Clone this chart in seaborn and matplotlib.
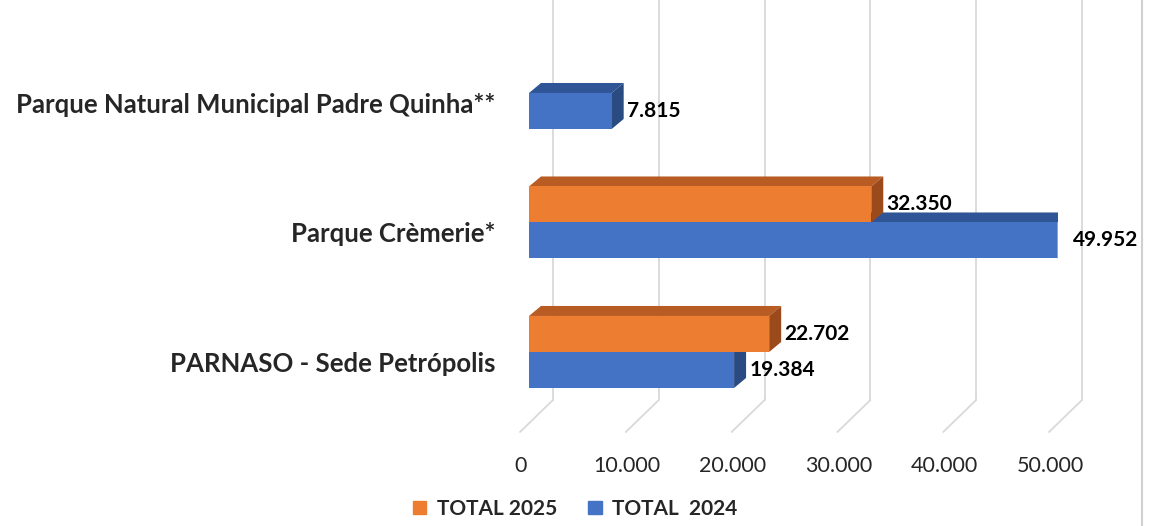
import pandas as pd
import numpy as np
import matplotlib.pyplot as plt
import seaborn as sns
from matplotlib.patches import Polygon
from matplotlib.lines import Line2D
from matplotlib.transforms import IdentityTransform, ScaledTranslation

# dados
parques = ['Parque Natural Municipal Padre Quinha**', 'Parque Crèmerie*', 'PARNASO - Sede Petrópolis']
total_2025 = [np.nan, 32350, 22702]
total_2024 = [7815, 49952, 19384]
series = ['TOTAL 2025', 'TOTAL  2024']
cores = ['#ED7D31', '#4472C4']
cores_topo = ['#B85C24', '#2F5597']
cores_lado = ['#9A4A1B', '#2A4A82']
ticks = [0, 10000, 20000, 30000, 40000, 50000]

df = pd.DataFrame({
    'Parque': parques * 2,
    'Serie': [series[0]] * 3 + [series[1]] * 3,
    'Visitantes': total_2025 + total_2024,
})

sns.set_theme(style='white')
plt.rcParams['font.family'] = ['Lato', 'DejaVu Sans']
plt.rcParams['font.weight'] = 'bold'

W, H = 1150, 526
fig = plt.figure(figsize=(W / 100, H / 100), dpi=100)
ax = fig.add_axes([529 / W, (H - 400) / H, 529 / W, 400 / H])
ax.patch.set_alpha(0)

sns.barplot(data=df, y='Parque', x='Visitantes', hue='Serie', hue_order=series,
            palette=cores, width=0.556, orient='h', ax=ax, legend=False,
            saturation=1, zorder=3, linewidth=0)

ax.set_xlim(0, 50000)
ax.set_ylim(2.371, -0.718)
ax.set_xlabel('')
ax.set_ylabel('')
for s in ax.spines.values():
    s.set_visible(False)
ax.grid(False)
ax.set_xticks(ticks)
ax.set_xticklabels([f'{t:,}'.replace(',', '.') for t in ticks], fontsize=15.5, fontweight='normal')
ax.tick_params(axis='x', length=0, pad=40)
ax.tick_params(axis='y', length=0, pad=24, labelsize=18.5)
for lbl in ax.get_xticklabels():
    lbl.set_transform(lbl.get_transform() + ScaledTranslation(-8 / 100, 0, fig.dpi_scale_trans))
for lbl in ax.get_yticklabels():
    lbl.set_fontweight('bold')
    lbl.set_transform(lbl.get_transform() + ScaledTranslation(0, -10 / 100, fig.dpi_scale_trans))

# efeito 3D: faces de topo e lateral
dx, dy = 12, 10
ident = IdentityTransform()
for i, cont in enumerate(ax.containers):
    for bar in cont:
        w = bar.get_width()
        if not np.isfinite(w) or w == 0:
            continue
        y0 = bar.get_y()
        h = bar.get_height()
        X0, Yt = ax.transData.transform((0, y0))
        X1, Yb = ax.transData.transform((w, y0 + h))
        topo = Polygon([(X0, Yt), (X1, Yt), (X1 + dx, Yt + dy), (X0 + dx, Yt + dy)],
                       closed=True, transform=ident, facecolor=cores_topo[i],
                       edgecolor='none', zorder=2 - i * 0.5)
        lado = Polygon([(X1, Yt), (X1 + dx, Yt + dy), (X1 + dx, Yb + dy), (X1, Yb)],
                       closed=True, transform=ident, facecolor=cores_lado[i],
                       edgecolor='none', zorder=2 - i * 0.5)
        ax.add_artist(topo)
        ax.add_artist(lado)
    labels = [f'{v:,.0f}'.replace(',', '.') if np.isfinite(v) else '' for v in cont.datavalues]
    ax.bar_label(cont, labels=labels, padding=11, fontsize=15, fontweight='bold', color='black')

# grade na parede do fundo e no piso
yb_disp = ax.transData.transform((0, 2.371))[1]
for t in ticks:
    xf = ax.transData.transform((t, 0))[0]
    fig.add_artist(Line2D([xf + 24, xf + 24], [yb_disp, H], transform=ident,
                          color='#D9D9D9', lw=1.3, zorder=0))
    fig.add_artist(Line2D([xf + 24, xf - 9], [yb_disp, yb_disp - 32], transform=ident,
                          color='#D9D9D9', lw=1.3, zorder=0))

# borda direita
fig.add_artist(Line2D([1142, 1142], [0, H], transform=ident, color='#D0D0D0', lw=1.5, zorder=0))

handles = [plt.Rectangle((0, 0), 1, 1, color=c) for c in cores]
fig.legend(handles, series, loc='lower center', bbox_to_anchor=(0.5, -0.022), ncol=2,
           frameon=False, prop={'size': 15, 'weight': 'bold'}, handlelength=0.65,
           handleheight=0.65, columnspacing=1.5, handletextpad=0.5)

plt.savefig('out.png', dpi=100)
